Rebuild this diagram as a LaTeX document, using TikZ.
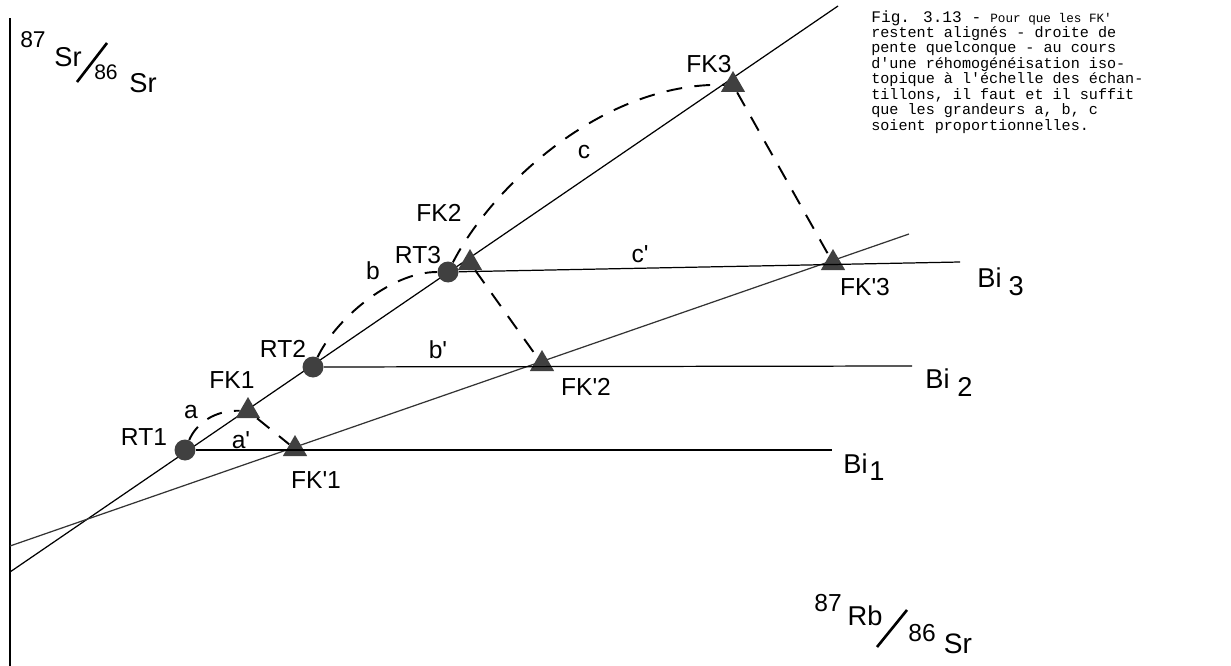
\documentclass[tikz,border=0pt]{standalone}
\usepackage{fontspec}
\setmainfont{Liberation Sans}
\newfontfamily\typewriter{Liberation Mono}
\usetikzlibrary{positioning,shapes.geometric}

\begin{document}
\begin{tikzpicture}[
    x=0.02cm, y=-0.02cm,
    axis/.style={line width=1.1pt},
    isoline/.style={line width=0.7pt},
    shiftline/.style={line width=1.1pt, dash pattern=on 9pt off 7pt},
    rt/.style={circle, fill=black!75, minimum size=0.42cm, inner sep=0pt},
    fk/.style={regular polygon, regular polygon sides=3, fill=black!75,
               minimum size=0.56cm, inner sep=0pt},
    lbl/.style={inner sep=0pt, font=\fontsize{14}{14}\selectfont},
    ratio/.style={inner sep=0pt, font=\fontsize{15.5}{15.5}\selectfont},
    mass/.style={inner sep=0pt, font=\fontsize{13}{13}\selectfont},
    note/.style={inner sep=0pt, align=left,
                 font=\typewriter\fontsize{8.6}{8.8}\selectfont},
  ]
  \useasboundingbox (0,0) rectangle (1231,666);

  % axis and the two isochrons
  \coordinate (ytop) at (10,18);
  \coordinate (ybot) at (10,666);
  \coordinate (steep0) at (10,572);
  \coordinate (steep1) at (838,6);
  \coordinate (flat0) at (10,546);
  \coordinate (flat1) at (909,234);
  \draw[axis] (ytop) -- (ybot);
  \draw[isoline] (steep0) -- (steep1);
  \draw[isoline, black!80] (flat0) -- (flat1);

  % samples
  \node[rt] (rt1) at (185,450) {};
  \node[rt] (rt2) at (313,367) {};
  \node[rt] (rt3) at (448,272) {};
  \node[fk] (fk1) at (248,411) {};
  \node[fk] (fk2) at (470,263) {};
  \node[fk] (fk3) at (733,85) {};
  \node[fk] (fkp1) at (295,449) {};
  \node[fk] (fkp2) at (542,364) {};
  \node[fk] (fkp3) at (833,263) {};

  % Bi lines
  \coordinate (bi1end) at (832,450);
  \coordinate (bi2end) at (912,366);
  \coordinate (bi3end) at (960,262);
  \draw[isoline] (rt1) -- (bi1end);
  \draw[isoline] (rt2) -- (bi2end);
  \draw[isoline] (rt3) -- (bi3end);

  % displacements
  \draw[shiftline] (rt1) .. controls (196,424) and (214,410) .. (fk1);
  \draw[shiftline] (rt2) .. controls (335,320) and (390,272) .. (rt3);
  \draw[shiftline] (rt3) .. controls (490,190) and (600,82) .. (fk3);
  \draw[shiftline] (fk1) -- (fkp1);
  \draw[shiftline] (fk2) -- (fkp2);
  \draw[shiftline] (fk3) -- (fkp3);

  % point labels
  \node[lbl] (lrt1) at (144,437) {RT1};
  \node[lbl] (lrt2) at (283,349) {RT2};
  \node[lbl] (lrt3) at (418,255) {RT3};
  \node[lbl] (lfk1) at (232,380) {FK1};
  \node[lbl] (lfk2) at (439,213) {FK2};
  \node[lbl] (lfk3) at (709,64) {FK3};
  \node[lbl] (lfkp1) at (316,480) {FK\textquotesingle 1};
  \node[lbl] (lfkp2) at (586,387) {FK\textquotesingle 2};
  \node[lbl] (lfkp3) at (865,287) {FK\textquotesingle 3};
  \node[lbl] (la) at (191,412) {a};
  \node[lbl] (lap) at (241,440) {a\textquotesingle};
  \node[lbl] (lb) at (373,271) {b};
  \node[lbl] (lbp) at (438,350) {b\textquotesingle};
  \node[lbl] (lc) at (584,152) {c};
  \node[lbl] (lcp) at (640,254) {c\textquotesingle};

  \node[ratio, anchor=base west] (lbi1) at (843,473) {Bi\hspace{1pt}\raisebox{-4pt}{1}};
  \node[ratio, anchor=base west] (lbi2) at (925,388) {Bi\hspace{4.5pt}\raisebox{-5pt}{2}};
  \node[ratio, anchor=base west] (lbi3) at (977,287) {Bi\hspace{4pt}\raisebox{-5pt}{3}};

  % axis titles
  \node[mass] (ysup) at (33,40) {87};
  \node[ratio] (ynum) at (68,57) {Sr};
  \node[mass, font=\fontsize{12}{12}\selectfont] (ysub) at (106,72) {86};
  \node[ratio] (yden) at (143,83) {Sr};
  \draw[line width=1.5pt] (77,82) -- (107,43);

  \node[mass, font=\fontsize{14}{14}\selectfont] (xsup) at (828,603) {87};
  \node[ratio] (xnum) at (865,616) {Rb};
  \node[mass, font=\fontsize{14}{14}\selectfont] (xsub) at (922,633) {86};
  \node[ratio, font=\fontsize{16}{16}\selectfont] (xden) at (958,644) {Sr};
  \draw[line width=1.5pt] (877,647) -- (907,610);

  % caption
  \node[note, anchor=north west] (caption) at (871,10)
    {{\fontsize{9.2}{8.8}\selectfont Fig. 3.13 -} {\fontsize{7.2}{8.8}\selectfont Pour que les FK\textquotesingle}\\
     restent alignés - droite de\\
     pente quelconque - au cours\\
     d\textquotesingle une réhomogénéisation iso-\\
     topique à l\textquotesingle échelle des échan-\\
     tillons, il faut et il suffit\\
     que les grandeurs a, b, c\\
     soient proportionnelles.};
\end{tikzpicture}
\end{document}
